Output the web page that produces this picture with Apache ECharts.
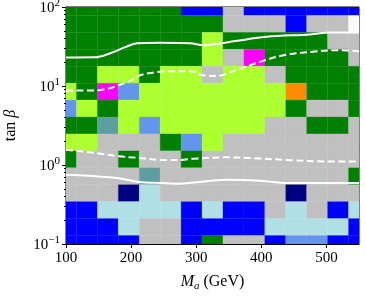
<!DOCTYPE html>
<html><head><meta charset="utf-8">
<script src="https://cdn.jsdelivr.net/npm/echarts@6/dist/echarts.min.js"></script>
<style>html,body{margin:0;padding:0;background:#fff}#c{width:366px;height:296px}</style>
</head><body><div id="c"></div>
<script>
// Cell centres
const maCenters = [100, 132.14, 164.29, 196.43, 228.57, 260.71, 292.86, 325, 357.14, 389.29, 421.43, 453.57, 485.71, 517.86, 550];
const tanbCenters = [0.1, 0.1638, 0.2683, 0.4394, 0.7197, 1.179, 1.931, 3.162, 5.179, 8.483, 13.89, 22.76, 37.28, 61.05, 100];
// Cell classes, rows listed from top (tanβ = 100) to bottom (tanβ = 0.1)
const cellRows = [
  'GGGGGGBBSBBBBBB',
  'GGGGGGGGSSSBSSW',
  'GGGGGGGLGGGGGSS',
  'GGGGGGGLSMGGGGS',
  'GGLLGLLSLLSGGGG',
  'LGMCLLLLLLLOGGG',
  'CLGLLLLLLLLGSSG',
  'GGTLCLLLLLSSGGS',
  'LLSSSGCLSSSSSSS',
  'GSSGSSGSSSSSSSS',
  'SSSSTSSSSSSSSSG',
  'SSSNPSSSSSSNSSS',
  'BBPPPPBPBBSPSBP',
  'BBBPSSBBBBPPPPB',
  'BBBBSSBGSSBCCBB'
];
const classColors = {G:'#008000', L:'#ADFF2F', S:'#C0C0C0', B:'#0000FF', P:'#B0E0E6',
  C:'#6495ED', N:'#000080', M:'#FF00FF', O:'#FF8C00', T:'#5F9EA0', W:'#FFFAFA'};

// Contour lines
const solidUpperMa   = [100, 145, 168, 191, 209, 245, 291, 311, 329, 360, 408, 475, 506, 550];
const solidUpperTanb = [23.0, 23.1, 26.0, 31.0, 34.8, 35.4, 34.8, 32.9, 33.9, 37.0, 41.9, 45.0, 47.4, 47.4];
const dashUpperMa    = [100, 145, 165, 181, 200, 214, 235, 255, 295, 306, 332, 357, 398, 434, 475, 521, 550];
const dashUpperTanb  = [8.8, 8.8, 9.3, 10.2, 11.8, 13.7, 14.8, 15.4, 15.3, 13.9, 13.4, 15.5, 20.2, 24.5, 27.0, 28.4, 27.5];
const dashLowerMa    = [100, 145, 181, 212, 248, 275, 295, 347, 378, 398, 446, 498, 550];
const dashLowerTanb  = [1.56, 1.42, 1.29, 1.23, 1.16, 1.16, 1.20, 1.25, 1.23, 1.21, 1.15, 1.11, 1.11];
const solidLowerMa   = [100, 145, 181, 212, 248, 275, 295, 347, 398, 446, 550];
const solidLowerTanb = [0.75, 0.72, 0.68, 0.61, 0.59, 0.58, 0.60, 0.65, 0.63, 0.59, 0.59];

const xTicks = [100, 200, 300, 400, 500];

// build cells: edges at midpoints (geometric for log axis)
const nx = maCenters.length, ny = tanbCenters.length;
function xEdge(i){ if(i<=0) return maCenters[0]; if(i>=nx) return maCenters[nx-1]; return (maCenters[i-1]+maCenters[i])/2; }
function yEdge(j){ if(j<=0) return tanbCenters[0]; if(j>=ny) return tanbCenters[ny-1]; return Math.sqrt(tanbCenters[j-1]*tanbCenters[j]); }
const cells = [];
for (let r = 0; r < cellRows.length; r++) {
  const j = ny - 1 - r;
  for (let i = 0; i < nx; i++) {
    const c = cellRows[r][i];
    cells.push({value:[xEdge(i), yEdge(j), xEdge(i+1), yEdge(j+1)], itemStyle:{color:classColors[c]}});
  }
}
function zip(a,b){ return a.map((v,k)=>[v,b[k]]); }

const FONT = 'Liberation Serif';
const chart = echarts.init(document.getElementById('c'), null, {renderer:'canvas'});
const lineBase = {type:'line', symbol:'none', smooth:0.35, silent:true, z:5};
chart.setOption({
  animation:false,
  backgroundColor:'#fff',
  grid:{left:66, right:7, top:7, bottom:52, containLabel:false, outerBoundsMode:'none',
        show:true, borderColor:'#000', borderWidth:1, backgroundColor:'transparent'},
  xAxis:{type:'value', min:100, max:550, interval:100,
    name:'{m|M}{s|a}{n| (GeV)}', nameLocation:'middle', nameGap:30,
    nameTextStyle:{rich:{
      m:{fontFamily:FONT, fontStyle:'italic', fontSize:16, verticalAlign:'top', lineHeight:18, color:'#000'},
      s:{fontFamily:FONT, fontStyle:'italic', fontSize:11, verticalAlign:'bottom', lineHeight:18, color:'#000'},
      n:{fontFamily:FONT, fontSize:16, verticalAlign:'top', lineHeight:18, color:'#000'}}},
    axisLine:{show:true, lineStyle:{color:'#000', width:1}},
    axisTick:{show:true, length:4, lineStyle:{color:'#000'}, customValues:xTicks},
    axisLabel:{customValues:xTicks, fontFamily:FONT, fontSize:15, color:'#000', margin:7},
    splitLine:{show:false}},
  yAxis:{type:'log', logBase:10, min:0.1, max:100,
    name:'{n|tan }{g|β}', nameLocation:'middle', nameGap:47, nameRotate:90,
    nameTextStyle:{rich:{n:{fontFamily:FONT, fontSize:16, color:'#000'}, g:{fontFamily:FONT, fontStyle:'italic', fontSize:16, color:'#000'}}},
    axisLine:{show:true, lineStyle:{color:'#000', width:1}},
    axisTick:{show:true, length:4, lineStyle:{color:'#000'}},
    minorTick:{show:true, splitNumber:9, length:2, lineStyle:{color:'#000'}},
    axisLabel:{margin:6, color:'#000',
      formatter:function(v){ const e = Math.round(Math.log10(v)); return '{b|10}{s|' + (e<0 ? '\u2212'+(-e) : e) + '}'; },
      rich:{b:{fontFamily:FONT, fontSize:15, verticalAlign:'bottom', lineHeight:18, color:'#000'},
            s:{fontFamily:FONT, fontSize:11, verticalAlign:'top', lineHeight:18, color:'#000'}}},
    splitLine:{show:false}, minorSplitLine:{show:false}},
  series:[
    {type:'custom', clip:true, silent:true, z:2,
     renderItem:function(params, api){
       const p0 = api.coord([api.value(0), api.value(1)]);
       const p1 = api.coord([api.value(2), api.value(3)]);
       const x = Math.min(p0[0],p1[0]), y = Math.min(p0[1],p1[1]);
       return {type:'rect', shape:{x:x, y:y, width:Math.abs(p1[0]-p0[0]), height:Math.abs(p1[1]-p0[1])},
         style:{fill:api.visual('color'), stroke:api.visual('color'), lineWidth:0.3}};
     },
     encode:{x:[0,2], y:[1,3]},
     data:cells},
    Object.assign({}, lineBase, {data:zip(solidUpperMa, solidUpperTanb), lineStyle:{color:'#fff', width:2}}),
    Object.assign({}, lineBase, {data:zip(dashUpperMa, dashUpperTanb), lineStyle:{color:'#fff', width:2, type:[7,3.5]}}),
    Object.assign({}, lineBase, {data:zip(dashLowerMa, dashLowerTanb), lineStyle:{color:'#fff', width:2, type:[7,3.5]}}),
    Object.assign({}, lineBase, {data:zip(solidLowerMa, solidLowerTanb), lineStyle:{color:'#fff', width:2}})
  ]
});
</script></body></html>
